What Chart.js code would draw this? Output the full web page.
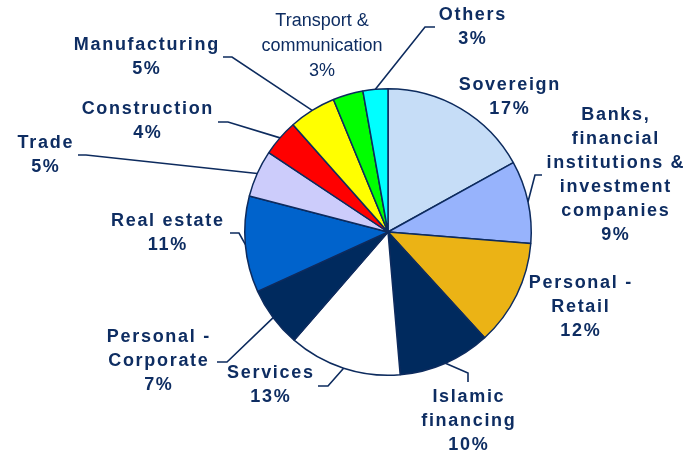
<!DOCTYPE html>
<html>
<head>
<meta charset="utf-8">
<script src="https://cdn.jsdelivr.net/npm/chart.js@4"></script>
<style>
  html, body { margin: 0; padding: 0; background: #ffffff; }
  #wrap { width: 693px; height: 452px; }
</style>
</head>
<body>
<div id="wrap"><canvas id="c" width="693" height="452"></canvas></div>
<script>
// ---- data ----
const categories = [
  'Sovereign', 'Banks, financial institutions & investment companies', 'Personal - Retail',
  'Islamic financing', 'Services', 'Personal - Corporate', 'Real estate', 'Trade',
  'Construction', 'Manufacturing', 'Transport & communication', 'Others'
];
// label text split into lines (percentage line is appended from the values)
const labelLines = [
  ['Sovereign'],
  ['Banks,', 'financial', 'institutions &', 'investment', 'companies'],
  ['Personal -', 'Retail'],
  ['Islamic', 'financing'],
  ['Services'],
  ['Personal -', 'Corporate'],
  ['Real estate'],
  ['Trade'],
  ['Construction'],
  ['Manufacturing'],
  ['Transport &', 'communication'],
  ['Others']
];
const shares = [16.9, 9.3, 11.9, 10.4, 12.7, 6.8, 10.8, 5.3, 4.1, 5.3, 3.4, 2.8];

// ---- styles / layout (kept apart from data) ----
const sliceColors = ['#c6ddf7', '#97b3fc', '#ebb315', '#002a5e', '#ffffff', '#002a5e',
                     '#0063cc', '#ccccfb', '#ff0000', '#ffff00', '#00ff00', '#00ffff'];
const navy = '#0d2b5e';
const textColor = '#0e2d62';
// label first-line centre, relative to the pie centre
const labelOffsets = [
  [121, -147], [227, -117], [192, 51], [80, 165], [-118, 141], [-230, 105],
  [-221, -11], [-343, -89], [-241, -123], [-242, -187], [-66, -211], [84, -217]
];
// leader elbow and end, relative to pie centre (null = no leader)
const leaders = [
  null,
  [[147, -57], [154, -57]],
  null,
  [[80, 141], [80, 150]],
  [[-60, 154], [-70, 154]],
  [[-161, 130], [-171, 130]],
  [[-149, 1], [-158, 1]],
  [[-302, -77], [-310, -77]],
  [[-160, -110], [-170, -110]],
  [[-156, -175], [-165, -175]],
  null,
  [[37, -205], [47, -205]]
];
const plainLabel = [false, false, false, false, false, false, false, false, false, false, true, false];

const labelPlugin = {
  id: 'outLabels',
  afterDatasetsDraw(chart) {
    const ctx = chart.ctx;
    const meta = chart.getDatasetMeta(0);
    meta.data.forEach((arc, i) => {
      const p = arc.getProps(['x', 'y', 'startAngle', 'endAngle', 'outerRadius'], true);
      const mid = (p.startAngle + p.endAngle) / 2;
      const ax = p.x + Math.cos(mid) * p.outerRadius;
      const ay = p.y + Math.sin(mid) * p.outerRadius;
      ctx.save();
      if (leaders[i]) {
        ctx.strokeStyle = navy;
        ctx.lineWidth = 1.6;
        ctx.beginPath();
        ctx.moveTo(ax, ay);
        ctx.lineTo(p.x + leaders[i][0][0], p.y + leaders[i][0][1]);
        ctx.lineTo(p.x + leaders[i][1][0], p.y + leaders[i][1][1]);
        ctx.stroke();
      }
      const lines = labelLines[i].concat([Math.round(shares[i]) + '%']);
      const plain = plainLabel[i];
      const ls = plain ? 0 : 1.7;
      const lh = plain ? 25 : 24;
      ctx.font = (plain ? '' : 'bold ') + '18px "Liberation Sans", Arial, sans-serif';
      ctx.letterSpacing = ls + 'px';
      ctx.fillStyle = textColor;
      ctx.textAlign = 'left';
      ctx.textBaseline = 'middle';
      const cx = p.x + labelOffsets[i][0];
      const cy = p.y + labelOffsets[i][1];
      lines.forEach((t, k) => {
        const w = ctx.measureText(t).width;
        ctx.fillText(t, cx - (w - ls) / 2, cy + k * lh);
      });
      ctx.restore();
    });
  }
};

new Chart(document.getElementById('c'), {
  type: 'pie',
  data: {
    labels: categories,
    datasets: [{
      data: shares,
      backgroundColor: sliceColors,
      borderColor: navy,
      borderWidth: 1.5
    }]
  },
  options: {
    responsive: false,
    devicePixelRatio: 1,
    animation: false,
    layout: { padding: { left: 244, right: 161, top: 88, bottom: 76 } },
    plugins: { legend: { display: false }, tooltip: { enabled: false } }
  },
  plugins: [labelPlugin]
});
</script>
</body>
</html>
